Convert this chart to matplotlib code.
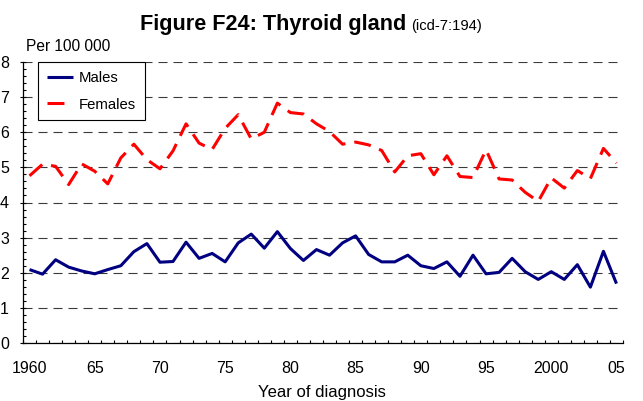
import matplotlib
matplotlib.use('Agg')
import matplotlib.pyplot as plt
from matplotlib.ticker import FixedLocator, MultipleLocator
import numpy as np

# ---------------- data ----------------
years = list(range(1960, 2006))
males = [2.09, 1.96, 2.37, 2.16, 2.05, 1.97, 2.09, 2.20, 2.60, 2.83,
         2.30, 2.32, 2.87, 2.41, 2.55, 2.31, 2.85, 3.10, 2.70, 3.17,
         2.69, 2.35, 2.66, 2.50, 2.85, 3.05, 2.52, 2.31, 2.31, 2.50,
         2.20, 2.12, 2.31, 1.90, 2.50, 1.97, 2.01, 2.41, 2.03, 1.81,
         2.03, 1.81, 2.23, 1.59, 2.61, 1.69]
females = [4.76, 5.09, 5.03, 4.51, 5.10, 4.89, 4.53, 5.27, 5.66, 5.22,
           4.96, 5.47, 6.24, 5.69, 5.51, 6.11, 6.50, 5.81, 6.00, 6.83,
           6.56, 6.52, 6.24, 6.02, 5.66, 5.72, 5.64, 5.48, 4.87, 5.33,
           5.39, 4.79, 5.33, 4.74, 4.71, 5.50, 4.67, 4.64, 4.29, 4.03,
           4.70, 4.41, 4.91, 4.68, 5.54, 5.12]
xtick_years = [1960, 1965, 1970, 1975, 1980, 1985, 1990, 1995, 2000, 2005]
xtick_labels = ['1960', '65', '70', '75', '80', '85', '90', '95', '2000', '05']
yticks = list(range(0, 9))
series_names = ['Males', 'Females']

# ---------------- style ----------------
plt.rcParams['font.family'] = ['Liberation Sans', 'DejaVu Sans']
plt.rcParams['lines.scale_dashes'] = False

W, H = 643, 401
fig = plt.figure(figsize=(W / 100, H / 100), dpi=100)
ax = fig.add_axes([23 / W, 1 - 343 / H, 600 / W, 281 / H])

ax.plot(years, males, color='#000080', lw=2.2, solid_capstyle='butt',
        label=series_names[0], zorder=3)
ax.plot(years, females, color='#ff0000', lw=2.2, dashes=(12.2, 6.5),
        dash_capstyle='butt', label=series_names[1], zorder=3)

ax.set_xlim(years[0] - 0.5, years[-1] + 0.5)
ax.set_ylim(0, 8)

# grid
ax.set_axisbelow(True)
ax.yaxis.grid(True, color='#3a3a3a', lw=0.8, linestyle=(0, (6.5, 4.3)))
ax.xaxis.grid(False)

for s in ['top', 'right']:
    ax.spines[s].set_visible(False)
for s in ['left', 'bottom']:
    ax.spines[s].set_linewidth(0.9)
    ax.spines[s].set_color('black')

# x ticks
ax.xaxis.set_major_locator(FixedLocator(xtick_years))
ax.set_xticklabels(xtick_labels)
ax.xaxis.set_minor_locator(FixedLocator(np.arange(years[0] - 0.5, years[-1] + 1, 1)))
ax.tick_params(axis='x', which='major', length=0, pad=13, labelsize=11.5)
ax.tick_params(axis='x', which='minor', direction='in', length=2.3, width=0.8)

# y ticks
ax.yaxis.set_major_locator(FixedLocator(yticks))
ax.yaxis.set_minor_locator(MultipleLocator(0.2))
ax.tick_params(axis='y', which='major', direction='inout', length=4.4, width=0.8,
               pad=8, labelsize=11.5)
ax.tick_params(axis='y', which='minor', direction='in', length=2.3, width=0.8)

# legend
leg = ax.legend(loc='upper left', bbox_to_anchor=(38 / W, 1 - 62 / H),
                bbox_transform=fig.transFigure, borderaxespad=0,
                frameon=True, fancybox=False, edgecolor='black', framealpha=1,
                fontsize=10.7, handlelength=1.75, handletextpad=0.4,
                borderpad=0.6, labelspacing=0.85)
leg.get_frame().set_linewidth(0.8)

# texts
t1 = fig.text(140 / W, 1 - 30 / H, 'Figure F24: Thyroid gland', fontsize=15.6,
              fontweight='bold', ha='left', va='baseline')
fig.canvas.draw()
bb = t1.get_window_extent()
fig.text((bb.x1 + 5) / W, 1 - 30 / H, '(icd-7:194)', fontsize=10.6,
         ha='left', va='baseline')
fig.text(26 / W, 1 - 51 / H, 'Per 100 000', fontsize=11.2, ha='left', va='baseline')
fig.text(322 / W, 1 - 397 / H, 'Year of diagnosis', fontsize=12,
         ha='center', va='baseline')

fig.savefig('out.png', dpi=100)
